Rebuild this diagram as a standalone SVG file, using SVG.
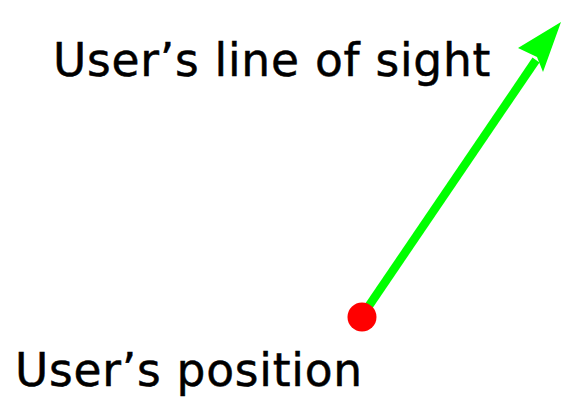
<svg xmlns="http://www.w3.org/2000/svg" width="561" height="397" viewBox="0 0 561 397">
<style>
text{font-family:"DejaVu Sans",sans-serif;font-size:45.5px;fill:#000;stroke:#000;stroke-width:0.5;letter-spacing:0.75px}
.sight{stroke:#00ff00;stroke-width:8.5;fill:none}
</style>
<rect width="561" height="397" fill="#fff"/>
<g id="connectors">
<line class="sight" x1="362" y1="316" x2="536" y2="60"/>
<polygon points="561,22 543,72 537,57 518,48" fill="#00ff00"/>
</g>
<g id="position">
<circle cx="362" cy="317" r="14.5" fill="#ff0000"/>
<text x="15" y="386">User’s position</text>
</g>
<g id="sight-label">
<text x="53" y="76">User’s line of sight</text>
</g>
</svg>
